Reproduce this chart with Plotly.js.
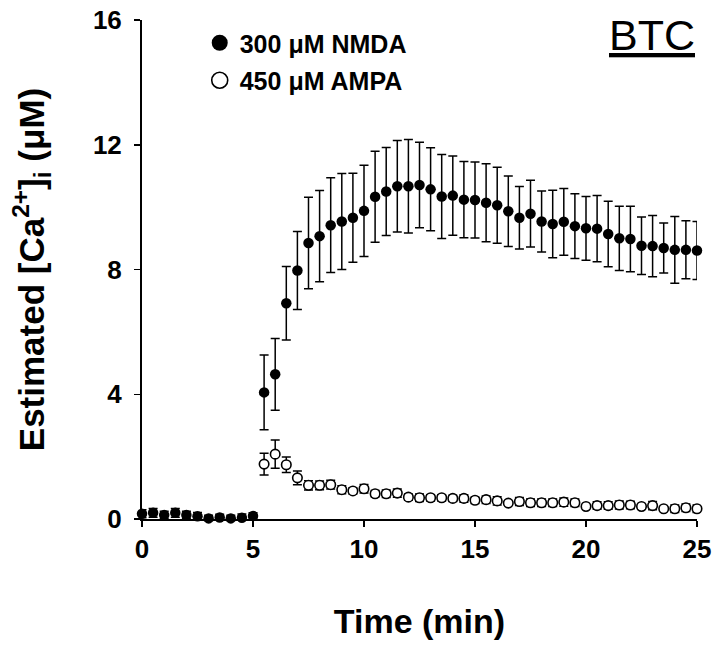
<!DOCTYPE html>
<html>
<head>
<meta charset="utf-8">
<script src="https://cdn.plot.ly/plotly-3.0.1.min.js"></script>
<style>
html, body { margin: 0; padding: 0; background: #fff; }
#chart { width: 720px; height: 650px; }
</style>
</head>
<body>
<div id="chart"></div>
<script>
// Time (min), sampled every 0.5 min
const time = [0, 0.5, 1, 1.5, 2, 2.5, 3, 3.5, 4, 4.5, 5,
  5.5, 6, 6.5, 7, 7.5, 8, 8.5, 9, 9.5, 10,
  10.5, 11, 11.5, 12, 12.5, 13, 13.5, 14, 14.5, 15,
  15.5, 16, 16.5, 17, 17.5, 18, 18.5, 19, 19.5, 20,
  20.5, 21, 21.5, 22, 22.5, 23, 23.5, 24, 24.5, 25];

// 300 µM NMDA: mean estimated [Ca2+]i (µM) and error
const nmdaMean = [0.17, 0.20, 0.13, 0.20, 0.13, 0.09, 0.02, 0.05, 0.02, 0.04, 0.10,
  4.06, 4.64, 6.92, 7.97, 8.85, 9.07, 9.42, 9.54, 9.66, 9.88,
  10.33, 10.50, 10.67, 10.67, 10.71, 10.57, 10.34, 10.37, 10.24, 10.23,
  10.14, 10.06, 9.87, 9.66, 9.79, 9.54, 9.46, 9.53, 9.39, 9.32,
  9.31, 9.14, 9.00, 8.98, 8.76, 8.75, 8.69, 8.63, 8.63, 8.61];
const nmdaErr = [0.13, 0.14, 0.12, 0.14, 0.12, 0.12, 0.10, 0.10, 0.10, 0.12, 0.10,
  1.20, 1.15, 1.18, 1.25, 1.47, 1.46, 1.52, 1.54, 1.43, 1.46,
  1.46, 1.41, 1.47, 1.50, 1.37, 1.33, 1.35, 1.27, 1.22, 1.22,
  1.25, 1.22, 1.13, 1.00, 1.07, 0.98, 1.08, 1.07, 1.04, 1.02,
  1.06, 1.05, 1.03, 1.05, 0.92, 0.98, 0.80, 1.07, 0.93, 0.93];

// 450 µM AMPA: mean estimated [Ca2+]i (µM) and error (from 5.5 min)
const ampaTime = [5.5, 6, 6.5, 7, 7.5, 8, 8.5, 9, 9.5, 10,
  10.5, 11, 11.5, 12, 12.5, 13, 13.5, 14, 14.5, 15,
  15.5, 16, 16.5, 17, 17.5, 18, 18.5, 19, 19.5, 20,
  20.5, 21, 21.5, 22, 22.5, 23, 23.5, 24, 24.5, 25];
const ampaMean = [1.76, 2.08, 1.74, 1.32, 1.08, 1.08, 1.10, 0.94, 0.90, 0.97,
  0.81, 0.81, 0.83, 0.70, 0.68, 0.68, 0.68, 0.66, 0.66, 0.60,
  0.62, 0.58, 0.51, 0.56, 0.52, 0.52, 0.52, 0.54, 0.52, 0.40,
  0.43, 0.43, 0.45, 0.45, 0.40, 0.43, 0.33, 0.33, 0.36, 0.33];
const ampaErr = [0.35, 0.45, 0.25, 0.22, 0.15, 0.14, 0.14, 0.13, 0.10, 0.14,
  0.10, 0.12, 0.13, 0.10, 0.12, 0.10, 0.10, 0.10, 0.12, 0.10,
  0.12, 0.13, 0.05, 0.13, 0.12, 0.12, 0.12, 0.13, 0.12, 0.05,
  0.12, 0.12, 0.13, 0.12, 0.05, 0.13, 0.05, 0.12, 0.12, 0.12];

const seriesNames = ['300 \u03bcM NMDA', '450 \u03bcM AMPA'];
const xTicks = [0, 5, 10, 15, 20, 25];
const yTicks = [0, 4, 8, 12, 16];

const FONT = 'Liberation Sans, Arial, Helvetica, sans-serif';

const errStyle = { type: 'data', visible: true, color: '#000', thickness: 1.5, width: 4.5 };

const traces = [
  {
    x: ampaTime, y: ampaMean, type: 'scatter', mode: 'markers',
    error_y: Object.assign({ array: ampaErr }, errStyle),
    marker: { symbol: 'circle', size: 9.5, color: '#fff', line: { color: '#000', width: 1.6 } },
    cliponaxis: false, showlegend: false, hoverinfo: 'x+y'
  },
  {
    x: time, y: nmdaMean, type: 'scatter', mode: 'markers',
    error_y: Object.assign({ array: nmdaErr }, errStyle),
    marker: { symbol: 'circle', size: 10.5, color: '#000' },
    cliponaxis: false, showlegend: false, hoverinfo: 'x+y'
  },
  // legend entries
  {
    x: [null], y: [null], type: 'scatter', mode: 'markers', name: seriesNames[0],
    legendgroup: 'a', marker: { symbol: 'circle', size: 16, color: '#000' }
  },
  {
    x: [null], y: [null], type: 'scatter', mode: 'markers', name: seriesNames[1],
    legendgroup: 'b', marker: { symbol: 'circle', size: 16, color: '#fff', line: { color: '#000', width: 1.6 } }
  }
];

const layout = {
  width: 720, height: 650,
  margin: { l: 142, r: 23, t: 20, b: 131, pad: 0 },
  paper_bgcolor: '#fff', plot_bgcolor: '#fff',
  font: { family: FONT, color: '#000', weight: 'bold' },
  showlegend: true,
  legend: {
    x: 0.104, y: 1.0, xanchor: 'left', yanchor: 'top',
    bgcolor: 'rgba(0,0,0,0)', borderwidth: 0,
    font: { family: FONT, size: 25, color: '#000', weight: 'bold' },
    tracegroupgap: 2
  },
  xaxis: {
    range: [0, 25], tickvals: xTicks, ticktext: xTicks.map(String),
    showline: true, linecolor: '#000', linewidth: 2,
    ticks: 'outside', ticklen: 6, tickwidth: 1.5, tickcolor: '#000',
    showgrid: false, zeroline: false,
    tickfont: { family: FONT, size: 26, color: '#000', weight: 'bold' },
    title: { text: 'Time (min)', font: { family: FONT, size: 34, color: '#000', weight: 'bold' }, standoff: 46 }
  },
  yaxis: {
    range: [0, 16], tickvals: yTicks, ticktext: yTicks.map(String),
    showline: true, linecolor: '#000', linewidth: 2,
    ticks: 'outside', ticklen: 6, tickwidth: 1.5, tickcolor: '#000',
    ticklabelstandoff: 7,
    showgrid: false, zeroline: false,
    tickfont: { family: FONT, size: 26, color: '#000', weight: 'bold' },
    title: { text: 'Estimated [Ca<sup>2+</sup>]<sub>i</sub> (\u03bcM)', font: { family: FONT, size: 35, color: '#000', weight: 'bold' }, standoff: 38 }
  },
  annotations: [
    {
      text: '<u>BTC</u>', xref: 'paper', yref: 'paper', x: 1.0, y: 1.023,
      xanchor: 'right', yanchor: 'top', showarrow: false,
      font: { family: FONT, size: 43, color: '#000', weight: 'normal' }
    }
  ]
};

Plotly.newPlot('chart', traces, layout, { displayModeBar: false, staticPlot: true });
</script>
</body>
</html>
